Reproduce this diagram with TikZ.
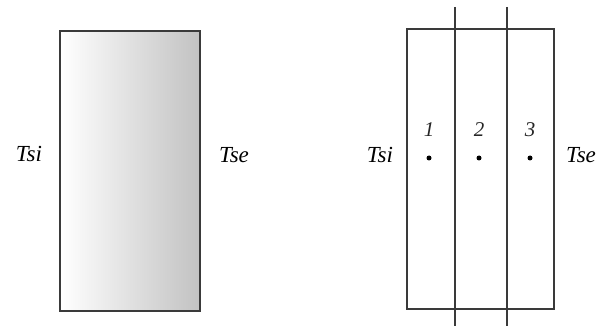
\documentclass[tikz,border=0pt]{standalone}
\usepackage{fontspec}
\setmainfont{Liberation Serif}
\definecolor{edge}{HTML}{3A3A3A}
\definecolor{shadeR}{HTML}{C2C2C2}
\tikzset{
  lbl/.style={font=\fontsize{23}{25}\selectfont\itshape, inner sep=0pt, text=black},
  num/.style={font=\fontsize{21}{24}\selectfont\itshape, inner sep=0pt, text=black!85},
  wall/.style={draw=edge, line width=1.6pt},
  dotmark/.style={circle, fill=black, inner sep=0pt, minimum size=5pt}
}
\begin{document}
\begin{tikzpicture}[x=1pt,y=-1pt]
\useasboundingbox (0,0) rectangle (614,326);
% left wall
\shade[left color=white, right color=shadeR] (60,31) rectangle (200,311);
\draw[wall, line width=2pt] (60,31) rectangle (200,311);
\node[lbl, anchor=base] (tsiL) at (29,162) {Tsi};
\node[lbl, anchor=base] (tseL) at (234,163) {Tse};
% right wall
\draw[wall] (407,29) rectangle (554,309);
\coordinate (a1) at (455,7);
\coordinate (a2) at (455,326);
\coordinate (b1) at (507,7);
\coordinate (b2) at (507,326);
\draw[wall] (a1) -- (a2);
\draw[wall] (b1) -- (b2);
\node[lbl, anchor=base] (tsiR) at (380,163) {Tsi};
\node[lbl, anchor=base] (tseR) at (581,163) {Tse};
\node[num, anchor=base] (n1) at (429,137) {1};
\node[num, anchor=base] (n2) at (479,137) {2};
\node[num, anchor=base] (n3) at (530,137) {3};
\node[dotmark] (d1) at (429,158) {};
\node[dotmark] (d2) at (479,158) {};
\node[dotmark] (d3) at (530,158) {};
\end{tikzpicture}
\end{document}
